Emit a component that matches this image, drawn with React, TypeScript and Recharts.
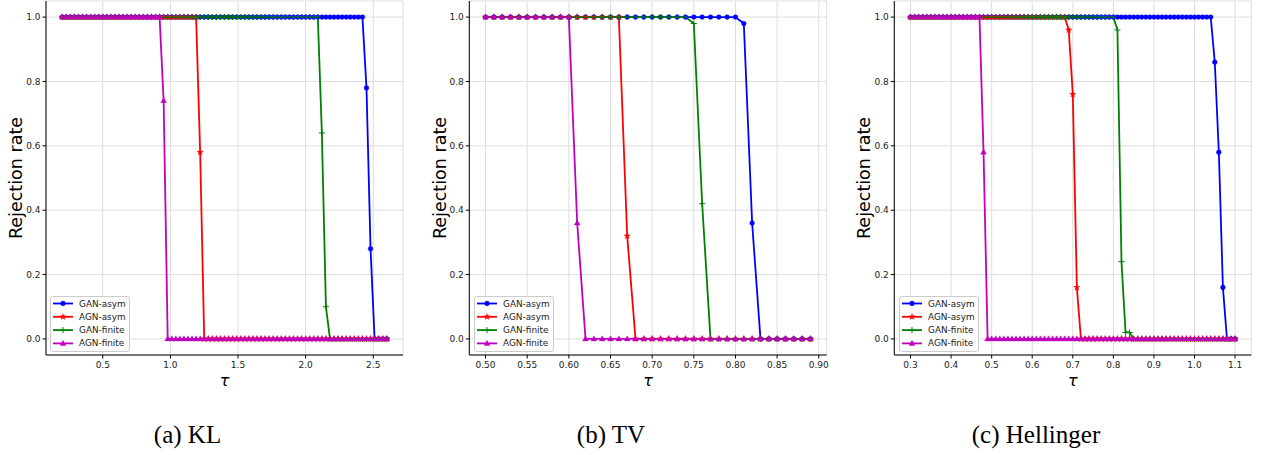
import React from 'react';
import { LineChart, Line, XAxis, YAxis, CartesianGrid, Legend, Label } from 'recharts';

// ---------- Data ----------
const KL_TAU = [
  0.20, 0.23, 0.26, 0.29, 0.32, 0.35, 0.38, 0.41, 0.44, 0.47,
  0.50, 0.53, 0.56, 0.59, 0.62, 0.65, 0.68, 0.71, 0.74, 0.77,
  0.80, 0.83, 0.86, 0.89, 0.92, 0.95, 0.98, 1.01, 1.04, 1.07,
  1.10, 1.13, 1.16, 1.19, 1.22, 1.25, 1.28, 1.31, 1.34, 1.37,
  1.40, 1.43, 1.46, 1.49, 1.52, 1.55, 1.58, 1.61, 1.64, 1.67,
  1.70, 1.73, 1.76, 1.79, 1.82, 1.85, 1.88, 1.91, 1.94, 1.97,
  2.00, 2.03, 2.06, 2.09, 2.12, 2.15, 2.18, 2.21, 2.24, 2.27,
  2.30, 2.33, 2.36, 2.39, 2.42, 2.45, 2.48, 2.51, 2.54, 2.57,
  2.60,
];
const KL_GAN_ASYM = [
  1, 1, 1, 1, 1, 1, 1, 1, 1, 1,
  1, 1, 1, 1, 1, 1, 1, 1, 1, 1,
  1, 1, 1, 1, 1, 1, 1, 1, 1, 1,
  1, 1, 1, 1, 1, 1, 1, 1, 1, 1,
  1, 1, 1, 1, 1, 1, 1, 1, 1, 1,
  1, 1, 1, 1, 1, 1, 1, 1, 1, 1,
  1, 1, 1, 1, 1, 1, 1, 1, 1, 1,
  1, 1, 1, 1, 1, 0.78, 0.28, 0, 0, 0,
  0,
];
const KL_AGN_ASYM = [
  1, 1, 1, 1, 1, 1, 1, 1, 1, 1,
  1, 1, 1, 1, 1, 1, 1, 1, 1, 1,
  1, 1, 1, 1, 1, 1, 1, 1, 1, 1,
  1, 1, 1, 1, 0.58, 0, 0, 0, 0, 0,
  0, 0, 0, 0, 0, 0, 0, 0, 0, 0,
  0, 0, 0, 0, 0, 0, 0, 0, 0, 0,
  0, 0, 0, 0, 0, 0, 0, 0, 0, 0,
  0, 0, 0, 0, 0, 0, 0, 0, 0, 0,
  0,
];
const KL_GAN_FINITE = [
  1, 1, 1, 1, 1, 1, 1, 1, 1, 1,
  1, 1, 1, 1, 1, 1, 1, 1, 1, 1,
  1, 1, 1, 1, 1, 1, 1, 1, 1, 1,
  1, 1, 1, 1, 1, 1, 1, 1, 1, 1,
  1, 1, 1, 1, 1, 1, 1, 1, 1, 1,
  1, 1, 1, 1, 1, 1, 1, 1, 1, 1,
  1, 1, 1, 1, 0.64, 0.1, 0, 0, 0, 0,
  0, 0, 0, 0, 0, 0, 0, 0, 0, 0,
  0,
];
const KL_AGN_FINITE = [
  1, 1, 1, 1, 1, 1, 1, 1, 1, 1,
  1, 1, 1, 1, 1, 1, 1, 1, 1, 1,
  1, 1, 1, 1, 1, 0.74, 0, 0, 0, 0,
  0, 0, 0, 0, 0, 0, 0, 0, 0, 0,
  0, 0, 0, 0, 0, 0, 0, 0, 0, 0,
  0, 0, 0, 0, 0, 0, 0, 0, 0, 0,
  0, 0, 0, 0, 0, 0, 0, 0, 0, 0,
  0, 0, 0, 0, 0, 0, 0, 0, 0, 0,
  0,
];

const TV_TAU = [
  0.50, 0.51, 0.52, 0.53, 0.54, 0.55, 0.56, 0.57, 0.58, 0.59,
  0.60, 0.61, 0.62, 0.63, 0.64, 0.65, 0.66, 0.67, 0.68, 0.69,
  0.70, 0.71, 0.72, 0.73, 0.74, 0.75, 0.76, 0.77, 0.78, 0.79,
  0.80, 0.81, 0.82, 0.83, 0.84, 0.85, 0.86, 0.87, 0.88, 0.89,
];
const TV_GAN_ASYM = [
  1, 1, 1, 1, 1, 1, 1, 1, 1, 1,
  1, 1, 1, 1, 1, 1, 1, 1, 1, 1,
  1, 1, 1, 1, 1, 1, 1, 1, 1, 1,
  1, 0.98, 0.36, 0, 0, 0, 0, 0, 0, 0,
];
const TV_AGN_ASYM = [
  1, 1, 1, 1, 1, 1, 1, 1, 1, 1,
  1, 1, 1, 1, 1, 1, 1, 0.32, 0, 0,
  0, 0, 0, 0, 0, 0, 0, 0, 0, 0,
  0, 0, 0, 0, 0, 0, 0, 0, 0, 0,
];
const TV_GAN_FINITE = [
  1, 1, 1, 1, 1, 1, 1, 1, 1, 1,
  1, 1, 1, 1, 1, 1, 1, 1, 1, 1,
  1, 1, 1, 1, 1, 0.98, 0.42, 0, 0, 0,
  0, 0, 0, 0, 0, 0, 0, 0, 0, 0,
];
const TV_AGN_FINITE = [
  1, 1, 1, 1, 1, 1, 1, 1, 1, 1,
  1, 0.36, 0, 0, 0, 0, 0, 0, 0, 0,
  0, 0, 0, 0, 0, 0, 0, 0, 0, 0,
  0, 0, 0, 0, 0, 0, 0, 0, 0, 0,
];

const HEL_TAU = [
  0.30, 0.31, 0.32, 0.33, 0.34, 0.35, 0.36, 0.37, 0.38, 0.39,
  0.40, 0.41, 0.42, 0.43, 0.44, 0.45, 0.46, 0.47, 0.48, 0.49,
  0.50, 0.51, 0.52, 0.53, 0.54, 0.55, 0.56, 0.57, 0.58, 0.59,
  0.60, 0.61, 0.62, 0.63, 0.64, 0.65, 0.66, 0.67, 0.68, 0.69,
  0.70, 0.71, 0.72, 0.73, 0.74, 0.75, 0.76, 0.77, 0.78, 0.79,
  0.80, 0.81, 0.82, 0.83, 0.84, 0.85, 0.86, 0.87, 0.88, 0.89,
  0.90, 0.91, 0.92, 0.93, 0.94, 0.95, 0.96, 0.97, 0.98, 0.99,
  1.00, 1.01, 1.02, 1.03, 1.04, 1.05, 1.06, 1.07, 1.08, 1.09,
  1.10,
];
const HEL_GAN_ASYM = [
  1, 1, 1, 1, 1, 1, 1, 1, 1, 1,
  1, 1, 1, 1, 1, 1, 1, 1, 1, 1,
  1, 1, 1, 1, 1, 1, 1, 1, 1, 1,
  1, 1, 1, 1, 1, 1, 1, 1, 1, 1,
  1, 1, 1, 1, 1, 1, 1, 1, 1, 1,
  1, 1, 1, 1, 1, 1, 1, 1, 1, 1,
  1, 1, 1, 1, 1, 1, 1, 1, 1, 1,
  1, 1, 1, 1, 1, 0.86, 0.58, 0.16, 0, 0,
  0,
];
const HEL_AGN_ASYM = [
  1, 1, 1, 1, 1, 1, 1, 1, 1, 1,
  1, 1, 1, 1, 1, 1, 1, 1, 1, 1,
  1, 1, 1, 1, 1, 1, 1, 1, 1, 1,
  1, 1, 1, 1, 1, 1, 1, 1, 1, 0.96,
  0.76, 0.16, 0, 0, 0, 0, 0, 0, 0, 0,
  0, 0, 0, 0, 0, 0, 0, 0, 0, 0,
  0, 0, 0, 0, 0, 0, 0, 0, 0, 0,
  0, 0, 0, 0, 0, 0, 0, 0, 0, 0,
  0,
];
const HEL_GAN_FINITE = [
  1, 1, 1, 1, 1, 1, 1, 1, 1, 1,
  1, 1, 1, 1, 1, 1, 1, 1, 1, 1,
  1, 1, 1, 1, 1, 1, 1, 1, 1, 1,
  1, 1, 1, 1, 1, 1, 1, 1, 1, 1,
  1, 1, 1, 1, 1, 1, 1, 1, 1, 1,
  1, 0.96, 0.24, 0.02, 0.02, 0, 0, 0, 0, 0,
  0, 0, 0, 0, 0, 0, 0, 0, 0, 0,
  0, 0, 0, 0, 0, 0, 0, 0, 0, 0,
  0,
];
const HEL_AGN_FINITE = [
  1, 1, 1, 1, 1, 1, 1, 1, 1, 1,
  1, 1, 1, 1, 1, 1, 1, 1, 0.58, 0,
  0, 0, 0, 0, 0, 0, 0, 0, 0, 0,
  0, 0, 0, 0, 0, 0, 0, 0, 0, 0,
  0, 0, 0, 0, 0, 0, 0, 0, 0, 0,
  0, 0, 0, 0, 0, 0, 0, 0, 0, 0,
  0, 0, 0, 0, 0, 0, 0, 0, 0, 0,
  0, 0, 0, 0, 0, 0, 0, 0, 0, 0,
  0,
];

const KL_TICKS = [0.5, 1.0, 1.5, 2.0, 2.5];
const TV_TICKS = [0.5, 0.55, 0.6, 0.65, 0.7, 0.75, 0.8, 0.85, 0.9];
const HEL_TICKS = [0.3, 0.4, 0.5, 0.6, 0.7, 0.8, 0.9, 1.0, 1.1];
const Y_TICKS = [0, 0.2, 0.4, 0.6, 0.8, 1.0];
const SERIES_NAMES = ['GAN-asym', 'AGN-asym', 'GAN-finite', 'AGN-finite'];
const CAPTIONS = ['(a) KL', '(b) TV', '(c) Hellinger'];
const Y_LABEL = 'Rejection rate';
const X_LABEL = 'τ';

// ---------- Build tables ----------
const buildRows = (tau: number[], s: number[][]) =>
  tau.map((t, i) => ({ tau: t, s0: s[0][i], s1: s[1][i], s2: s[2][i], s3: s[3][i] }));

const KL_ROWS = buildRows(KL_TAU, [KL_GAN_ASYM, KL_AGN_ASYM, KL_GAN_FINITE, KL_AGN_FINITE]);
const TV_ROWS = buildRows(TV_TAU, [TV_GAN_ASYM, TV_AGN_ASYM, TV_GAN_FINITE, TV_AGN_FINITE]);
const HEL_ROWS = buildRows(HEL_TAU, [HEL_GAN_ASYM, HEL_AGN_ASYM, HEL_GAN_FINITE, HEL_AGN_FINITE]);

// ---------- Styles ----------
const SERIES = [
  { key: 's0', name: SERIES_NAMES[0], color: '#0000ff', marker: 'circle' },
  { key: 's1', name: SERIES_NAMES[1], color: '#ff0000', marker: 'star' },
  { key: 's2', name: SERIES_NAMES[2], color: '#008000', marker: 'plus' },
  { key: 's3', name: SERIES_NAMES[3], color: '#bf00bf', marker: 'triangle' },
];

const PANELS = [
  {
    left: 0, mLeft: 6, mRight: 17, domain: [0.08, 2.72], ticks: KL_TICKS, dec: 1,
    rows: KL_ROWS, yLabelX: 21.5, tauX: 224.5, capX: 187.5, legendLeft: 50, caption: CAPTIONS[0],
  },
  {
    left: 420, mLeft: 9.3, mRight: 13.3, domain: [0.4805, 0.9095], ticks: TV_TICKS, dec: 2,
    rows: TV_ROWS, yLabelX: 26, tauX: 228, capX: 191, legendLeft: 54, caption: CAPTIONS[1],
  },
  {
    left: 842, mLeft: 12.3, mRight: 10.7, domain: [0.26, 1.14], ticks: HEL_TICKS, dec: 1,
    rows: HEL_ROWS, yLabelX: 28.3, tauX: 230.8, capX: 194, legendLeft: 57, caption: CAPTIONS[2],
  },
];

const FONT = '"DejaVu Sans", sans-serif';
const W = 420;
const H = 455;
const PLOT_TOP = 1;
const PLOT_BOTTOM = 355;
const X_AXIS_H = 30;

function starPoints(cx: number, cy: number, R: number, r: number) {
  const pts: string[] = [];
  for (let k = 0; k < 10; k++) {
    const ang = -Math.PI / 2 + (k * Math.PI) / 5;
    const rad = k % 2 === 0 ? R : r;
    pts.push(`${cx + rad * Math.cos(ang)},${cy + rad * Math.sin(ang)}`);
  }
  return pts.join(' ');
}

function Marker({ kind, cx, cy, color }: { kind: string; cx: number; cy: number; color: string }) {
  if (kind === 'circle') return <circle cx={cx} cy={cy} r={2.4} fill={color} stroke={color} strokeWidth={0.4} />;
  if (kind === 'star') return <polygon points={starPoints(cx, cy, 3.4, 1.4)} fill={color} stroke={color} strokeWidth={0.3} />;
  if (kind === 'plus')
    return (
      <path d={`M${cx - 3},${cy}H${cx + 3}M${cx},${cy - 3}V${cy + 3}`} stroke={color} strokeWidth={1} fill="none" />
    );
  return (
    <polygon
      points={`${cx},${cy - 3.2} ${cx - 3},${cy + 2} ${cx + 3},${cy + 2}`}
      fill={color}
      stroke={color}
      strokeWidth={0.3}
    />
  );
}

const makeDot = (kind: string, color: string) => (p: any) => {
  const { cx, cy, index } = p;
  if (cx == null || cy == null) return <g key={`d${index}`} />;
  return (
    <g key={`d${index}`}>
      <Marker kind={kind} cx={cx} cy={cy} color={color} />
    </g>
  );
};

function LegendBox() {
  return (
    <svg width={80} height={56} style={{ display: 'block', overflow: 'visible' }}>
      <rect x={0.5} y={0.5} width={79} height={55} rx={2.5} fill="#ffffff" fillOpacity={0.85} stroke="#cccccc" />
      {SERIES.map((s, i) => {
        const y = 7.5 + i * 13.3;
        return (
          <g key={s.key}>
            <line x1={3} x2={23} y1={y} y2={y} stroke={s.color} strokeWidth={1.8} />
            <Marker kind={s.marker} cx={13} cy={y} color={s.color} />
            <text x={29} y={y} dominantBaseline="central" fontSize={8.9} fontFamily={FONT} fill="#222">
              {s.name}
            </text>
          </g>
        );
      })}
    </svg>
  );
}

function Panel({ p }: { p: (typeof PANELS)[number] }) {
  const fmtX = (v: number) => v.toFixed(p.dec);
  const yMid = (PLOT_TOP + PLOT_BOTTOM) / 2;
  return (
    <div style={{ position: 'absolute', left: p.left, top: 0, width: W, height: H }}>
      <LineChart
        width={W}
        height={H}
        data={p.rows}
        margin={{ top: PLOT_TOP, right: p.mRight, left: p.mLeft, bottom: H - PLOT_BOTTOM - X_AXIS_H }}
      >
        <CartesianGrid stroke="#dddddd" strokeWidth={1} />
        <XAxis
          dataKey="tau"
          type="number"
          domain={p.domain}
          allowDataOverflow
          ticks={p.ticks}
          interval={0}
          tickFormatter={fmtX}
          tick={{ fontSize: 9, fill: '#222', fontFamily: FONT }}
          tickSize={3.5}
          tickMargin={3}
          axisLine={{ stroke: '#000' }}
          tickLine={{ stroke: '#000' }}
          height={X_AXIS_H}
        >
          <Label
            content={() => (
              <g>
                <text
                  x={p.tauX}
                  y={385.5}
                  textAnchor="middle"
                  fontSize={16}
                  fontStyle="italic"
                  fontFamily={FONT}
                  fill="#000"
                >
                  {X_LABEL}
                </text>
                <text
                  x={p.capX}
                  y={443}
                  textAnchor="middle"
                  fontSize={25}
                  fontFamily='"Liberation Serif", serif'
                  fill="#000"
                >
                  {p.caption}
                </text>
              </g>
            )}
          />
        </XAxis>
        <XAxis
          xAxisId="top"
          orientation="top"
          dataKey="tau"
          type="number"
          domain={p.domain}
          allowDataOverflow
          tick={false}
          tickLine={false}
          axisLine={{ stroke: '#000' }}
          height={0}
        />
        <YAxis
          type="number"
          domain={[-0.05, 1.05]}
          allowDataOverflow
          ticks={Y_TICKS}
          interval={0}
          tickFormatter={(v: number) => v.toFixed(1)}
          tick={{ fontSize: 9, fill: '#222', fontFamily: FONT }}
          tickSize={3.5}
          tickMargin={2}
          axisLine={{ stroke: '#000' }}
          tickLine={{ stroke: '#000' }}
          width={40}
        >
          <Label
            content={() => (
              <text
                x={p.yLabelX}
                y={yMid}
                transform={`rotate(-90, ${p.yLabelX}, ${yMid})`}
                textAnchor="middle"
                fontSize={17.5}
                fontFamily={FONT}
                fill="#000"
              >
                {Y_LABEL}
              </text>
            )}
          />
        </YAxis>
        <YAxis
          yAxisId="right"
          orientation="right"
          type="number"
          domain={[-0.05, 1.05]}
          allowDataOverflow
          tick={false}
          tickLine={false}
          axisLine={{ stroke: '#000' }}
          width={0}
        />
        {SERIES.map((s) => (
          <Line
            key={s.key}
            type="linear"
            dataKey={s.key}
            name={s.name}
            stroke={s.color}
            strokeWidth={1.8}
            dot={makeDot(s.marker, s.color)}
            activeDot={false}
            isAnimationActive={false}
          />
        ))}
        <Legend
          layout="horizontal"
          verticalAlign="middle"
          align="center"
          content={() => <LegendBox />}
          wrapperStyle={{ position: 'absolute', left: p.legendLeft, top: 296, width: 80, height: 56 }}
        />
      </LineChart>
    </div>
  );
}

export default function App() {
  return (
    <div
      style={{
        position: 'absolute',
        left: 0,
        top: 0,
        width: 1262,
        height: 455,
        background: '#ffffff',
        overflow: 'hidden',
      }}
    >
      {PANELS.map((p, i) => (
        <Panel key={i} p={p} />
      ))}
    </div>
  );
}
